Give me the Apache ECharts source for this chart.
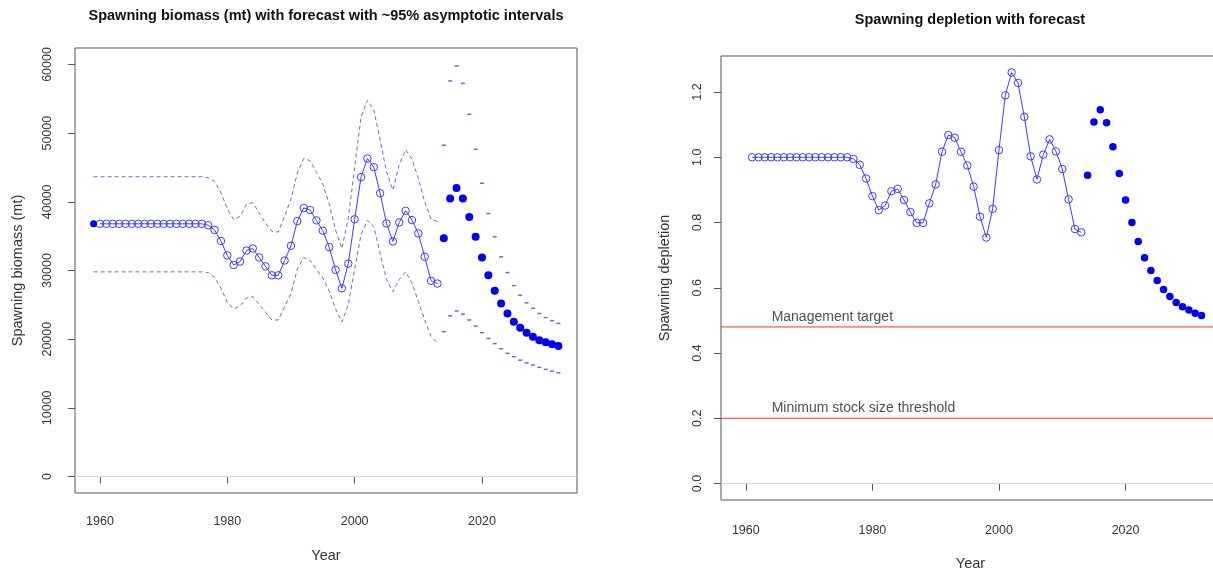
<!DOCTYPE html>
<html><head><meta charset="utf-8">
<script src="https://cdn.jsdelivr.net/npm/echarts@6/dist/echarts.min.js"></script>
<style>html,body{margin:0;padding:0;background:#fff;overflow:hidden}#c{width:1226px;height:576px}</style>
</head><body><div id="c"></div>
<script>
const FONT = 'Liberation Sans, Arial, Helvetica, sans-serif';

// ---- Left panel: spawning biomass (mt) ----
const virginYear = 1959;
const virginBiomass = 36800;
const histStart = 1960; // 1960-2013
const histBiomass = [
  36800,36800,36800,36800,36800,36800,36800,36800,36800,36800,36800,36800,36800,36800,36800,36800,36800,
  36600,35900,34300,32200,30800,31300,32900,33200,31900,30600,29300,29300,31450,33600,37200,39100,38800,
  37300,35800,33400,30100,27400,31000,37450,43600,46300,45050,41250,36850,34230,37000,38700,37340,35400,
  32000,28500,28100
];
const ciStart = 1959; // 1959-2013
const ciUpper = [
  43650,43650,43650,43650,43650,43650,43650,43650,43650,43650,43650,43650,43650,43650,43650,43650,43650,43650,
  43500,43000,41300,39000,37400,37900,39600,39900,38400,36900,35700,35600,37900,40400,44200,46300,46000,
  44300,42600,39700,35900,33200,37600,45000,52300,54800,53400,49000,44400,41700,45400,47600,46200,43400,
  40000,37500,37100
];
const ciLower = [
  29800,29800,29800,29800,29800,29800,29800,29800,29800,29800,29800,29800,29800,29800,29800,29800,29800,29800,
  29700,29000,27400,25400,24400,24800,26000,26200,25100,23900,22800,22800,24700,26700,30200,31900,31500,
  30200,28900,27000,24400,22500,25000,30200,35200,37300,36400,32500,28700,26900,28700,29800,28200,25500,
  22800,20400,19400
];
const forecastStart = 2014; // 2014-2032
const forecastBiomass = [34700,40500,42000,40500,37800,34900,31900,29300,27050,25200,23750,22550,21650,20950,20350,19850,19550,19250,19000];
const forecastUpper   = [48250,57600,59800,57250,52750,47650,42700,38300,34900,32000,29700,27800,26400,25300,24500,23750,23150,22700,22300];
const forecastLower   = [21100,23400,24100,23650,22800,21900,20950,20100,19350,18600,17950,17450,16950,16550,16250,15900,15600,15350,15100];

// ---- Right panel: spawning depletion ----
const deplStart = 1961; // 1961-2013
const histDepletion = [
  1.0,1.0,1.0,1.0,1.0,1.0,1.0,1.0,1.0,1.0,1.0,1.0,1.0,1.0,1.0,1.0,
  0.995,0.977,0.935,0.881,0.838,0.852,0.896,0.903,0.869,0.832,0.799,0.799,0.859,0.917,1.017,1.068,1.060,
  1.017,0.975,0.910,0.818,0.754,0.842,1.022,1.190,1.260,1.228,1.124,1.003,0.932,1.008,1.055,1.018,0.964,
  0.871,0.780,0.770
];
const forecastDepletion = [0.945,1.108,1.146,1.106,1.032,0.950,0.869,0.800,0.742,0.692,0.653,0.622,0.595,0.573,0.555,0.542,0.532,0.522,0.515];
const targetLevel = 0.48;
const thresholdLevel = 0.2;
const zeroLevel = 0;
const refLabels = ['Management target', 'Minimum stock size threshold'];
const refLabelYear = 1964;

// ---- axes, ticks & texts ----
const xMin = 1956.08, xMax = 2034.92;
const yearTicks = [1960, 1980, 2000, 2020];
const biomassTicks = [0, 10000, 20000, 30000, 40000, 50000, 60000];
const depletionTicks = [0, 0.2, 0.4, 0.6, 0.8, 1.0, 1.2];
const titles = ['Spawning biomass (mt) with forecast with ~95% asymptotic intervals', 'Spawning depletion with forecast'];
const yNames = ['Spawning biomass (mt)', 'Spawning depletion'];
const xName = 'Year';

const pair = (start, arr) => arr.map((v, i) => [start + i, v]);

const LINE = '#3c3cff';
const CI = '#6a6ad8';
const FILL = '#0000f0';
const RED = '#ff2b2b';
const ZERO = '#d8d8d8';
const AX = '#555';
const TXT = '#333';
const TICK_FS = 12.5;
const NAME_FS = 14.5;

function xAxis(gi, margin, gap) {
  return {
    type: 'value', gridIndex: gi, min: xMin, max: xMax,
    axisLine: { show: false },
    axisTick: { show: true, length: 7, customValues: yearTicks, lineStyle: { color: AX } },
    axisLabel: { customValues: yearTicks, margin: margin, fontSize: TICK_FS, color: TXT, fontFamily: FONT, formatter: v => String(v) },
    splitLine: { show: false },
    name: xName, nameLocation: 'middle', nameGap: gap,
    nameTextStyle: { fontSize: NAME_FS, color: TXT, fontFamily: FONT }
  };
}
function yAxis(gi, min, max, ticks, fmt, name, margin, gap) {
  return {
    type: 'value', gridIndex: gi, min: min, max: max,
    axisLine: { show: false },
    axisTick: { show: true, length: 7, customValues: ticks, lineStyle: { color: AX } },
    axisLabel: { customValues: ticks, rotate: 90, margin: margin, fontSize: TICK_FS, color: TXT, fontFamily: FONT, formatter: fmt },
    splitLine: { show: false },
    name: name, nameLocation: 'middle', nameGap: gap,
    nameTextStyle: { fontSize: NAME_FS, color: TXT, fontFamily: FONT }
  };
}
// horizontal reference line across the full axis extent
function refLine(gi, level, color, z) {
  return {
    type: 'line', xAxisIndex: gi, yAxisIndex: gi, data: [[xMin, level], [xMax, level]],
    symbol: 'none', lineStyle: { color: color, width: 1, type: 'solid' }, silent: true, z: z
  };
}
function refText(level, text) {
  return {
    type: 'scatter', xAxisIndex: 1, yAxisIndex: 1, data: [[refLabelYear, level + 0.03, text]],
    symbolSize: 1, itemStyle: { color: 'rgba(0,0,0,0)' }, silent: true, z: 6,
    label: { show: true, position: 'right', distance: 0, formatter: p => p.data[2],
      fontSize: 14, color: '#222', fontFamily: FONT }
  };
}

const option = {
  animation: false,
  backgroundColor: '#fff',
  title: [
    { text: titles[0], left: 321, top: 3, textAlign: 'center', textStyle: { fontSize: NAME_FS, fontWeight: 'bold', color: '#111', fontFamily: FONT } },
    { text: titles[1], left: 965, top: 7, textAlign: 'center', textStyle: { fontSize: NAME_FS, fontWeight: 'bold', color: '#111', fontFamily: FONT } }
  ],
  grid: [
    { left: 75, top: 48, width: 502, height: 445, show: true, borderColor: AX, borderWidth: 1, backgroundColor: 'transparent', containLabel: false },
    { left: 721, top: 56, width: 499, height: 445, show: true, borderColor: AX, borderWidth: 1, backgroundColor: 'transparent', containLabel: false }
  ],
  xAxis: [xAxis(0, 22, 55), xAxis(1, 24, 56)],
  yAxis: [
    yAxis(0, -2400, 62400, biomassTicks, v => String(v), yNames[0], 21, 50),
    yAxis(1, -0.0504, 1.3104, depletionTicks, v => v.toFixed(1), yNames[1], 17, 49)
  ],
  series: [
    // left panel
    refLine(0, zeroLevel, ZERO, 1),
    {
      type: 'line', xAxisIndex: 0, yAxisIndex: 0, data: pair(ciStart, ciUpper), symbol: 'none',
      lineStyle: { color: CI, width: 1, type: [4, 3] }, silent: true, z: 2
    },
    {
      type: 'line', xAxisIndex: 0, yAxisIndex: 0, data: pair(ciStart, ciLower), symbol: 'none',
      lineStyle: { color: CI, width: 1, type: [4, 3] }, silent: true, z: 2
    },
    {
      type: 'line', xAxisIndex: 0, yAxisIndex: 0, data: pair(histStart, histBiomass),
      symbol: 'circle', symbolSize: 7.5, showSymbol: true, showAllSymbol: true,
      itemStyle: { color: 'rgba(0,0,0,0)', borderColor: LINE, borderWidth: 1 },
      lineStyle: { color: LINE, width: 1 }, silent: true, z: 3
    },
    {
      type: 'scatter', xAxisIndex: 0, yAxisIndex: 0, data: [[virginYear, virginBiomass]],
      symbolSize: 7, itemStyle: { color: FILL, opacity: 1 }, silent: true, z: 4
    },
    {
      type: 'scatter', xAxisIndex: 0, yAxisIndex: 0, data: pair(forecastStart, forecastBiomass),
      symbolSize: 8, itemStyle: { color: FILL, opacity: 1 }, silent: true, z: 4
    },
    {
      type: 'scatter', xAxisIndex: 0, yAxisIndex: 0, data: pair(forecastStart, forecastUpper),
      symbol: 'rect', symbolSize: [4, 1.5], itemStyle: { color: CI, opacity: 1 }, silent: true, z: 4
    },
    {
      type: 'scatter', xAxisIndex: 0, yAxisIndex: 0, data: pair(forecastStart, forecastLower),
      symbol: 'rect', symbolSize: [4, 1.5], itemStyle: { color: CI, opacity: 1 }, silent: true, z: 4
    },
    // right panel
    refLine(1, zeroLevel, ZERO, 1),
    refLine(1, targetLevel, RED, 2),
    refLine(1, thresholdLevel, RED, 2),
    {
      type: 'line', xAxisIndex: 1, yAxisIndex: 1, data: pair(deplStart, histDepletion),
      symbol: 'circle', symbolSize: 7.5, showSymbol: true, showAllSymbol: true,
      itemStyle: { color: 'rgba(0,0,0,0)', borderColor: LINE, borderWidth: 1 },
      lineStyle: { color: LINE, width: 1 }, silent: true, z: 3
    },
    {
      type: 'scatter', xAxisIndex: 1, yAxisIndex: 1, data: pair(forecastStart, forecastDepletion),
      symbolSize: 7.5, itemStyle: { color: FILL, opacity: 1 }, silent: true, z: 4
    },
    refText(targetLevel, refLabels[0]),
    refText(thresholdLevel, refLabels[1])
  ]
};

const chart = echarts.init(document.getElementById('c'), null, { renderer: 'canvas' });
chart.setOption(option);
</script>
</body></html>
